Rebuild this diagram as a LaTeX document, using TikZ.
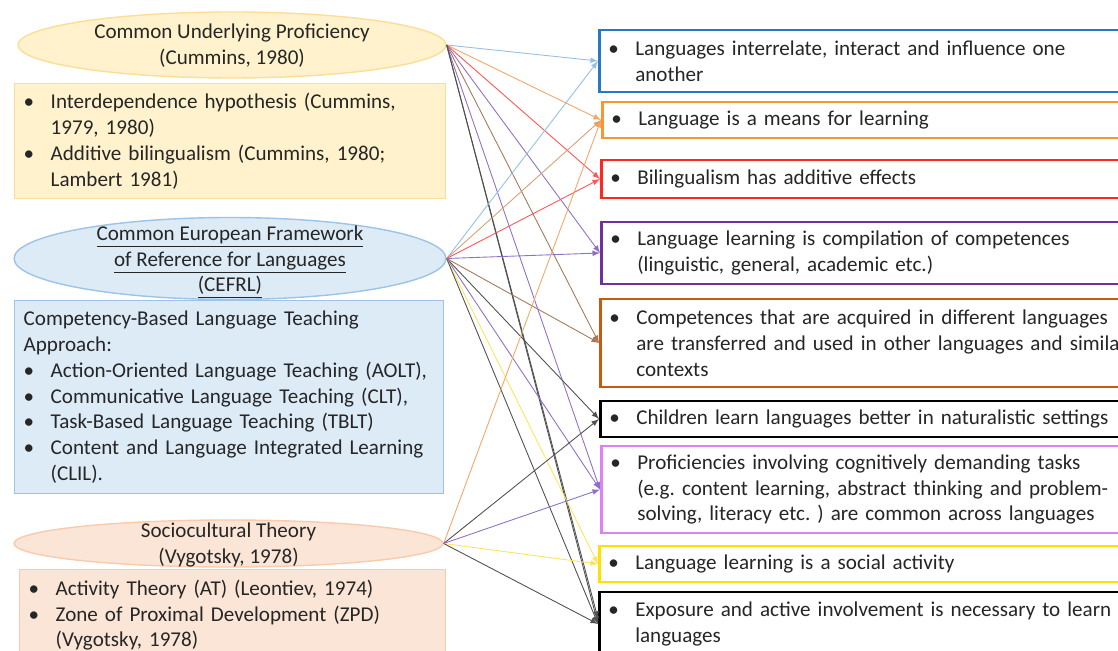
\documentclass[tikz,border=0pt]{standalone}
\usepackage{fontspec}
\setmainfont{Carlito}
\frenchspacing
\usetikzlibrary{shapes.geometric}

\definecolor{txt}{RGB}{38,38,38}
\definecolor{cupfill}{RGB}{255,242,204}
\definecolor{cupline}{RGB}{252,222,150}
\definecolor{cefill}{RGB}{221,235,247}
\definecolor{celine}{RGB}{157,195,230}
\definecolor{sctfill}{RGB}{251,229,214}
\definecolor{sctline}{RGB}{248,203,173}

\definecolor{bblue}{RGB}{40,120,200}
\definecolor{borange}{RGB}{247,150,50}
\definecolor{bred}{RGB}{255,40,30}
\definecolor{bpurple}{RGB}{112,48,160}
\definecolor{bbrown}{RGB}{197,90,17}
\definecolor{bviolet}{RGB}{220,130,245}
\definecolor{byellow}{RGB}{255,225,0}

\definecolor{lblue}{RGB}{150,190,228}
\definecolor{lorange}{RGB}{246,165,100}
\definecolor{ltan}{RGB}{215,160,115}
\definecolor{lred}{RGB}{255,85,85}
\definecolor{lpurple}{RGB}{145,110,200}
\definecolor{lbrown}{RGB}{165,120,90}
\definecolor{lblack}{RGB}{80,80,80}
\definecolor{lyellow}{RGB}{255,228,90}

\newcommand{\itembul}{\makebox[0.54cm][l]{\textbullet}}
\newcommand{\itemgap}{\hspace*{0.54cm}}

\begin{document}
\begin{tikzpicture}[x=0.02cm, y=-0.02cm, >=latex, font=\fontsize{12}{14.7}\selectfont, text=txt,
	theory/.style={ellipse, draw, line width=0.8pt, inner sep=0pt},
	srcbox/.style={draw, line width=0.8pt, align=left, inner xsep=0.18cm, inner ysep=0pt, anchor=north west},
	claim/.style={draw, line width=1.5pt, fill=white, align=left, text width=10.6cm, inner xsep=0.18cm, inner ysep=0pt, anchor=west},
	link/.style={->, line width=0.5pt}]
	\useasboundingbox (0,0) rectangle (1118,651);
	\clip (0,0) rectangle (1118,651);

	% theories and their boxes
	\node[theory, fill=cupfill, draw=cupline, minimum width=8.56cm, minimum height=1.32cm] (cup) at (232,45) {};
	\node[align=center] (cuplbl) at (232,46) {Common Underlying Proficiency\\(Cummins, 1980)};
	\node[srcbox, fill=cupfill, draw=cupline, text width=8.26cm, minimum height=2.3cm] (cupbox) at (14,83)
		{\itembul Interdependence hypothesis (Cummins,\\ \itemgap 1979, 1980)\\ \itembul Additive bilingualism (Cummins, 1980;\\ \itemgap Lambert 1981)};

	\node[theory, fill=cefill, draw=celine, minimum width=8.64cm, minimum height=1.64cm] (cef) at (230,258.5) {};
	\node[align=center] (ceflbl) at (230,262) {\underline{Common European Framework}\\\underline{of Reference for Languages}\\\underline{(CEFRL)}};
	\node[srcbox, fill=cefill, draw=celine, text width=8.22cm, minimum height=3.86cm] (cefbox) at (14,300)
		{Competency-Based Language Teaching\\ Approach:\\ \itembul Action-Oriented Language Teaching (AOLT),\\ \itembul Communicative Language Teaching (CLT),\\ \itembul Task-Based Language Teaching (TBLT)\\ \itembul Content and Language Integrated Learning\\ \itemgap (CLIL).};

	\node[theory, fill=sctfill, draw=sctline, minimum width=8.58cm, minimum height=0.94cm] (sct) at (228.5,543.5) {};
	\node[align=center] (sctlbl) at (228.5,545) {Sociocultural Theory\\(Vygotsky, 1978)};
	\node[srcbox, fill=sctfill, draw=sctline, text width=8.16cm, minimum height=1.82cm] (sctbox) at (19,569)
		{\itembul Activity Theory (AT) (Leontiev, 1974)\\ \itembul Zone of Proximal Development (ZPD)\\ \itemgap (Vygotsky, 1978)};

	% claims
	\node[claim, draw=bblue, minimum height=1.24cm] (r1) at (598,61)
		{\itembul Languages interrelate, interact and influence one\\ \itemgap another};
	\node[claim, draw=borange, minimum height=0.72cm] (r2) at (601,120) {\itembul Language is a means for learning};
	\node[claim, draw=bred, minimum height=0.76cm] (r3) at (600,179) {\itembul Bilingualism has additive effects};
	\node[claim, draw=bpurple, minimum height=1.24cm] (r4) at (600,253)
		{\itembul Language learning is compilation of competences\\ \itemgap (linguistic, general, academic etc.)};
	\node[claim, draw=bbrown, minimum height=1.76cm] (r5) at (599,343)
		{\itembul Competences that are acquired in different languages\\ \itemgap are transferred and used in other languages and similar\\ \itemgap contexts};
	\node[claim, draw=black, minimum height=0.72cm] (r6) at (599,419) {\itembul Children learn languages better in naturalistic settings};
	\node[claim, draw=bviolet, minimum height=1.74cm] (r7) at (600,489.5)
		{\itembul Proficiencies involving cognitively demanding tasks\\ \itemgap (e.g. content learning, abstract thinking and problem-\\ \itemgap solving, literacy etc. ) are common across languages};
	\node[claim, draw=byellow, minimum height=0.72cm] (r8) at (598,564) {\itembul Language learning is a social activity};
	\node[claim, draw=black, minimum height=1.28cm] (r9) at (598,624)
		{\itembul Exposure and active involvement is necessary to learn\\ \itemgap languages};

	% links
	\draw[link, lblue] (cup.east) -- (r1.west);
	\draw[link, lorange] (cup.east) -- (r2.west);
	\draw[link, lred] (cup.east) -- (r3.west);
	\draw[link, lpurple] (cup.east) -- (r4.west);
	\draw[link, lbrown] (cup.east) -- (r5.west);
	\draw[link, lpurple] (cup.east) -- (r7.west);
	\draw[link, lblack] (cup.east) -- (r9.west);
	\draw[link, lblack] (cup.east) -- ([yshift=3pt]r9.west);

	\draw[link, lblue] (cef.east) -- (r1.west);
	\draw[link, ltan] (cef.east) -- (r2.west);
	\draw[link, lred] (cef.east) -- (r3.west);
	\draw[link, lpurple] (cef.east) -- (r4.west);
	\draw[link, lbrown] (cef.east) -- (r5.west);
	\draw[link, lblack] (cef.east) -- (r6.west);
	\draw[link, lpurple] (cef.east) -- (r7.west);
	\draw[link, lyellow] (cef.east) -- (r8.west);
	\draw[link, lblack] (cef.east) -- (r9.west);

	\draw[link, lorange] (sct.east) -- (r2.west);
	\draw[link, lblack] (sct.east) -- (r6.west);
	\draw[link, lpurple] (sct.east) -- (r7.west);
	\draw[link, lyellow] (sct.east) -- (r8.west);
	\draw[link, lblack] (sct.east) -- (r9.west);
\end{tikzpicture}
\end{document}
